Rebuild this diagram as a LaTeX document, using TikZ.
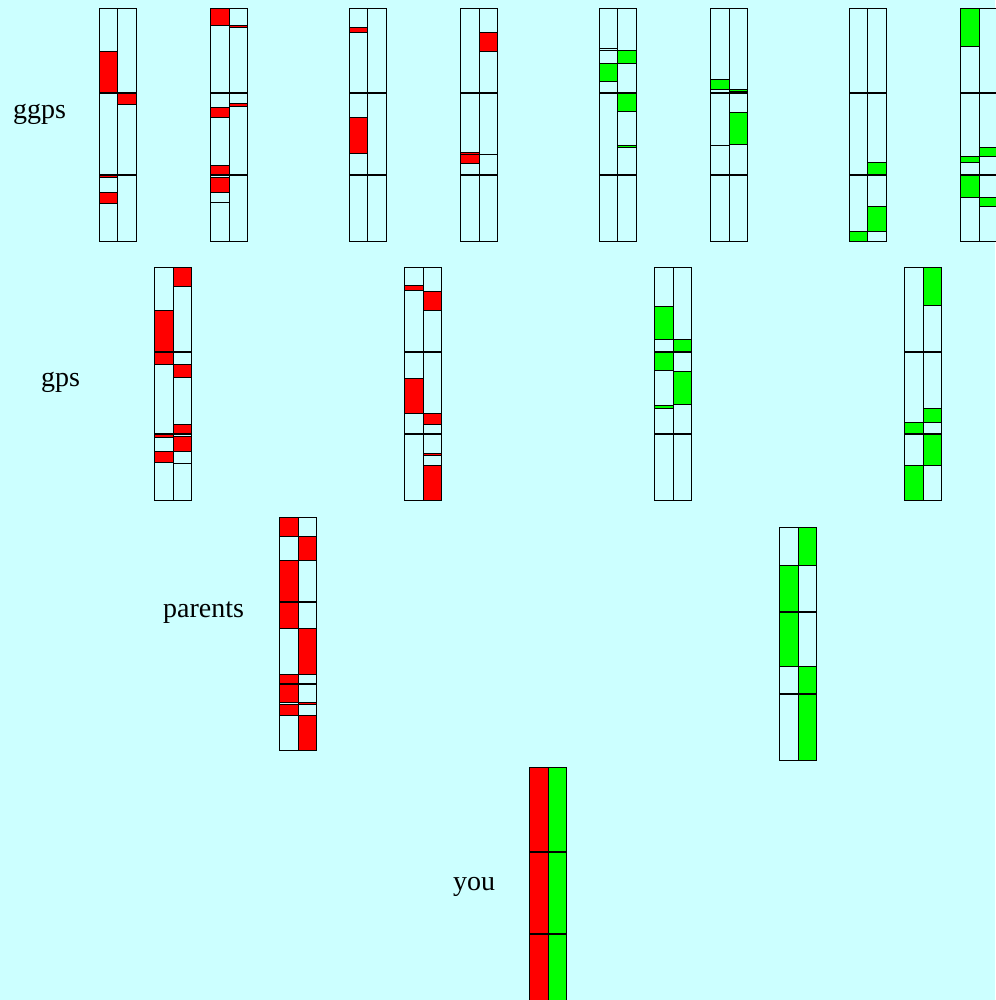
\documentclass[tikz,border=0pt]{standalone}
\usepackage{fontspec}
\setmainfont{Liberation Serif}
\usepackage{tikz}
\definecolor{bg}{RGB}{204,255,255}
\definecolor{gr}{RGB}{0,255,0}
\definecolor{rd}{RGB}{255,0,0}
% one strand: x, top, coloured pieces top/bottom/colour
\newcommand{\chromo}[3]{%
  \filldraw[seg,fill=bg] (#1,#2) rectangle ++(18.5,233);
  \foreach \t/\b/\col in {#3}{\filldraw[seg,fill=\col] (#1,#2+\t) rectangle (#1+18.5,#2+\b);}
  \draw[brk] (#1,#2+84) -- ++(18.5,0) (#1,#2+166) -- ++(18.5,0);
  \draw[seg] (#1,#2) rectangle ++(18.5,233);}
\newcommand{\pairs}[4]{\chromo{#1}{#2}{#3}\chromo{#1+18.5}{#2}{#4}}

\begin{document}
\begin{tikzpicture}[x=1pt,y=-1pt,
  seg/.style={draw=black,line width=1pt},
  brk/.style={draw=black,line width=1.8pt},
  lbl/.style={anchor=base west,inner sep=0pt,font=\fontsize{28}{34}\selectfont}]
  \useasboundingbox (0,0) rectangle (995,1000);
  \fill[bg] (0,0) rectangle (995,1000);
  % great-grandparents
  \pairs{99.3}{8.7}{42.7/84/rd,166/169.3/rd,183.7/194.7/rd}{84/96.3/rd}
  \pairs{210.7}{8.7}{0/17/rd,98.7/108.7/rd,157/166/rd,168.7/183.7/rd,183.7/194.3/bg}{17/18.7/rd,95.3/97.7/rd}
  \pairs{349.3}{8.7}{18.7/23.7/rd,108.7/144.7/rd}{0/233/bg}
  \pairs{460.7}{8.7}{144.3/146.3/rd,146.3/155.3/rd}{23.7/42.7/rd,146.3/166/bg}
  \pairs{599.3}{8.7}{40.3/42/bg,54.7/73/gr}{42/54.7/gr,84/103/gr,137/139.3/gr}
  \pairs{710.7}{8.7}{71/80.7/gr,137/166/bg}{80.7/83/gr,103.7/136.3/gr}
  \pairs{849.3}{8.7}{223/233/gr}{154.3/166/gr,198/223/gr}
  \pairs{960.7}{8.7}{0/38/gr,147.7/154.3/gr,167/188.7/gr}{139.3/147.7/gr,188.7/198/gr}
  % grandparents
  \pairs{154.7}{267.7}{42.7/84/rd,84/96.3/rd,166/169.3/rd,183.7/194.7/rd}{0/18.7/rd,97/109.7/rd,156.3/166/rd,168.7/184/rd,184/195.3/bg}
  \pairs{404.7}{267.7}{17.7/22.7/rd,110.3/145.3/rd}{23.7/42.7/rd,146/156.3/rd,185.3/188/rd,197.7/233/rd}
  \pairs{654.7}{267.7}{38.7/71.3/gr,84/103/gr,138/140.3/gr}{71.3/84/gr,103.7/137/gr}
  \pairs{904.7}{267.7}{154.3/166/gr,198/233/gr}{0/38/gr,140.3/154.3/gr,167/198/gr}
  % parents
  \pairs{279.7}{517.7}{0/18.7/rd,42.7/84/rd,84/110.3/rd,156.3/166/rd,167/184.3/rd,187/197.7/rd}{18.7/42.7/rd,110.3/156.3/rd,184.3/187/rd,197.7/233/rd}
  \pairs{779.7}{527.7}{37.7/84/gr,84/138.7/gr}{0/37.7/gr,138.7/166/gr,166/233/gr}
  % you
  \pairs{529.7}{767.7}{0/233/rd}{0/233/gr}
  \node[lbl] (ggps) at (13,119) {ggps};
  \node[lbl] (gps) at (41,386) {gps};
  \node[lbl] (parents) at (163,617) {parents};
  \node[lbl] (you) at (453,890) {you};
\end{tikzpicture}
\end{document}
